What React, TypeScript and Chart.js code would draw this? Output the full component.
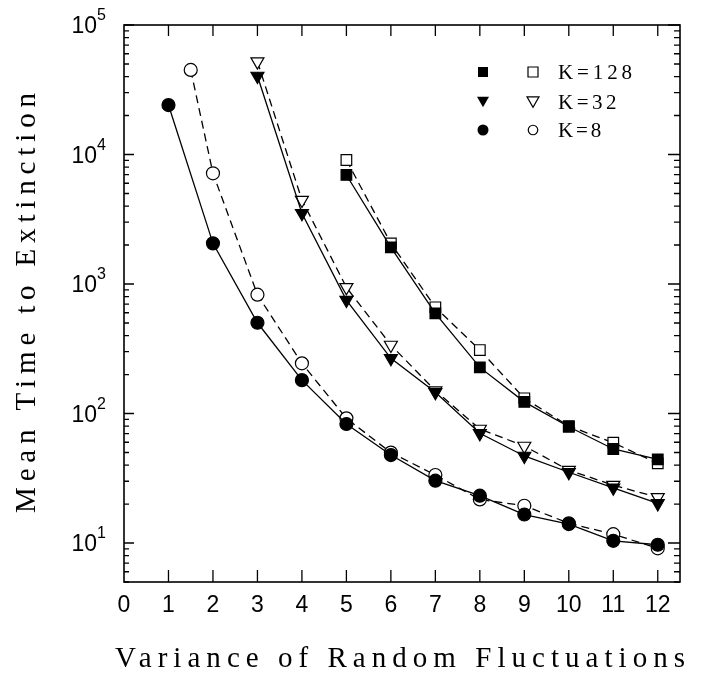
import React, { useEffect, useRef } from 'react';
import { Chart, registerables } from 'chart.js';

Chart.register(...registerables);

// ---- data ----
const k128X = [5, 6, 7, 8, 9, 10, 11, 12];
const k128Filled = [6950, 1920, 594, 227, 123, 79, 53.2, 44.3];
const k128Open = [9070, 2060, 661, 309, 131, 80, 59.5, 41.2];

const k32X = [3, 4, 5, 6, 7, 8, 9, 10, 11, 12];
const k32Filled = [40400, 3515, 752, 267, 146, 70.3, 47, 35.2, 26.7, 20.2];
const k32Open = [52100, 4450, 942, 338, 150, 75.9, 56.1, 36.5, 28.0, 22.5];

const k8FilledX = [1, 2, 3, 4, 5, 6, 7, 8, 9, 10, 11, 12];
const k8Filled = [24100, 2060, 502, 181, 83, 47.8, 30.3, 23.2, 16.6, 14.0, 10.4, 9.7];
const k8OpenX = [1.5, 2, 3, 4, 5, 6, 7, 8, 9, 10, 11, 12];
const k8Open = [45000, 7160, 827, 244, 91.8, 49.9, 33.5, 21.7, 19.4, 14.2, 11.7, 9.1];

const xTickValues = [0, 1, 2, 3, 4, 5, 6, 7, 8, 9, 10, 11, 12];
const yExponents = [1, 2, 3, 4, 5];
const legendLabels = ['K=128', 'K=32', 'K=8'];
const legendStyles = ['rect', 'triangle', 'circle'];
const xTitle = 'Variance of Random Fluctuations';
const yTitle = 'Mean Time to Extinction';

const SERIF = '"Liberation Serif", "DejaVu Serif", "Times New Roman", serif';
const SANS = '"Liberation Sans", Arial, Helvetica, sans-serif';

const pts = (xs: number[], ys: number[]) => xs.map((x, i) => ({ x, y: ys[i] }));

function drawMarker(ctx: CanvasRenderingContext2D, style: string, x: number, y: number, s: number, filled: boolean) {
  ctx.beginPath();
  if (style === 'rect') {
    ctx.rect(x - s / 2, y - s / 2, s, s);
  } else if (style === 'triangle') {
    const h = s * 0.866;
    ctx.moveTo(x - s / 2, y - h / 2);
    ctx.lineTo(x + s / 2, y - h / 2);
    ctx.lineTo(x, y + h / 2);
    ctx.closePath();
  } else {
    ctx.arc(x, y, s / 2, 0, Math.PI * 2);
  }
  if (filled) {
    ctx.fillStyle = '#000';
    ctx.fill();
  } else {
    ctx.fillStyle = '#fff';
    ctx.fill();
    ctx.lineWidth = 1.2;
    ctx.strokeStyle = '#000';
    ctx.stroke();
  }
}

function drawSpaced(ctx: CanvasRenderingContext2D, text: string, x: number, y: number, target: number) {
  (ctx as any).letterSpacing = '0px';
  const w = ctx.measureText(text).width;
  const ls = (target - w) / (text.length - 1);
  (ctx as any).letterSpacing = `${ls}px`;
  ctx.fillText(text, x, y);
  (ctx as any).letterSpacing = '0px';
}

const framePlugin = {
  id: 'frame',
  beforeDatasetsDraw(chart: any) {
    const { ctx, chartArea: a, scales } = chart;
    const x = scales.x;
    const y = scales.y;
    ctx.save();
    ctx.strokeStyle = '#000';
    ctx.lineWidth = 1.6;
    ctx.strokeRect(a.left, a.top, a.right - a.left, a.bottom - a.top);
    ctx.lineWidth = 1.3;
    ctx.beginPath();
    xTickValues.forEach((v) => {
      if (v <= 0) return;
      const px = x.getPixelForValue(v);
      ctx.moveTo(px, a.bottom);
      ctx.lineTo(px, a.bottom - 12);
      ctx.moveTo(px, a.top);
      ctx.lineTo(px, a.top + 11);
    });
    for (let e = 0; e <= 5; e++) {
      for (let m = 1; m <= 9; m++) {
        const v = m * Math.pow(10, e);
        if (v < y.min || v > y.max) continue;
        const py = y.getPixelForValue(v);
        const major = m === 1;
        ctx.moveTo(a.left, py);
        ctx.lineTo(a.left + (major ? 10 : 5), py);
        ctx.moveTo(a.right, py);
        ctx.lineTo(a.right - (major ? 12 : 6), py);
      }
    }
    ctx.stroke();
    ctx.restore();
  },
  afterDraw(chart: any) {
    const { ctx, scales } = chart;
    const y = scales.y;
    ctx.save();
    ctx.fillStyle = '#000';
    // y tick labels 10^n
    yExponents.forEach((e) => {
      const py = y.getPixelForValue(Math.pow(10, e));
      ctx.font = `23px ${SANS}`;
      ctx.textAlign = 'right';
      ctx.textBaseline = 'alphabetic';
      ctx.fillText('10', 97, py + 8);
      ctx.font = `16px ${SANS}`;
      ctx.textAlign = 'left';
      ctx.fillText(String(e), 97, py - 5);
    });
    // axis titles
    ctx.font = `29px ${SERIF}`;
    ctx.textAlign = 'left';
    ctx.textBaseline = 'alphabetic';
    drawSpaced(ctx, xTitle, 115, 667, 570);
    ctx.save();
    ctx.translate(35, 513);
    ctx.rotate(-Math.PI / 2);
    drawSpaced(ctx, yTitle, 0, 0, 420);
    ctx.restore();
    // legend
    const rows = [72, 102, 130];
    const filledSizes = [10, 12, 11];
    const openSizes = [10, 12, 9.5];
    rows.forEach((ry, i) => {
      drawMarker(ctx, legendStyles[i], 483, ry, filledSizes[i], true);
      drawMarker(ctx, legendStyles[i], 533, ry, openSizes[i], false);
      ctx.fillStyle = '#000';
      ctx.font = `21px ${SERIF}`;
      ctx.textAlign = 'left';
      ctx.textBaseline = 'alphabetic';
      drawSpaced(ctx, legendLabels[i], 558, ry + 7, legendLabels[i].length * 15.4 - 3);
    });
    ctx.restore();
  },
};

function series(data: any[], style: string, radius: number, filled: boolean) {
  return {
    data,
    borderColor: '#000',
    borderWidth: 1.3,
    borderDash: filled ? [] : [8, 5],
    pointStyle: style,
    rotation: style === 'triangle' ? 180 : 0,
    pointRadius: radius,
    pointHoverRadius: radius,
    pointBackgroundColor: filled ? '#000' : '#fff',
    pointBorderColor: '#000',
    pointBorderWidth: 1.2,
    fill: false,
    tension: 0,
  };
}

export default function App() {
  const ref = useRef<HTMLCanvasElement>(null);
  useEffect(() => {
    if (!ref.current) return;
    const chart = new Chart(ref.current, {
      type: 'line',
      data: {
        datasets: [
          series(pts(k128X, k128Filled), 'rect', 7.5, true),
          series(pts(k32X, k32Filled), 'triangle', 7.5, true),
          series(pts(k8FilledX, k8Filled), 'circle', 6.5, true),
          series(pts(k128X, k128Open), 'rect', 7.5, false),
          series(pts(k32X, k32Open), 'triangle', 7.5, false),
          series(pts(k8OpenX, k8Open), 'circle', 6.5, false),
        ] as any,
      },
      options: {
        animation: false,
        responsive: false,
        devicePixelRatio: 1,
        layout: { padding: { left: 0, right: 26, top: 25, bottom: 0 } },
        plugins: { legend: { display: false }, tooltip: { enabled: false } },
        scales: {
          x: {
            type: 'linear',
            min: 0,
            max: 12.5,
            grid: { display: false, drawTicks: false },
            border: { display: false },
            ticks: { font: { size: 23, family: SANS }, color: '#000', padding: 10 },
            afterBuildTicks: (s: any) => {
              s.ticks = xTickValues.map((v) => ({ value: v }));
            },
            afterFit: (s: any) => {
              s.height = 92;
            },
          },
          y: {
            type: 'logarithmic',
            min: 5,
            max: 100000,
            grid: { display: false, drawTicks: false },
            border: { display: false },
            ticks: { display: false },
            afterFit: (s: any) => {
              s.width = 124;
            },
          },
        },
      } as any,
      plugins: [framePlugin],
    });
    return () => chart.destroy();
  }, []);
  return (
    <div style={{ position: 'absolute', left: 0, top: 0, width: 706, height: 674, background: '#fff' }}>
      <canvas ref={ref} width={706} height={674} style={{ display: 'block' }} />
    </div>
  );
}
